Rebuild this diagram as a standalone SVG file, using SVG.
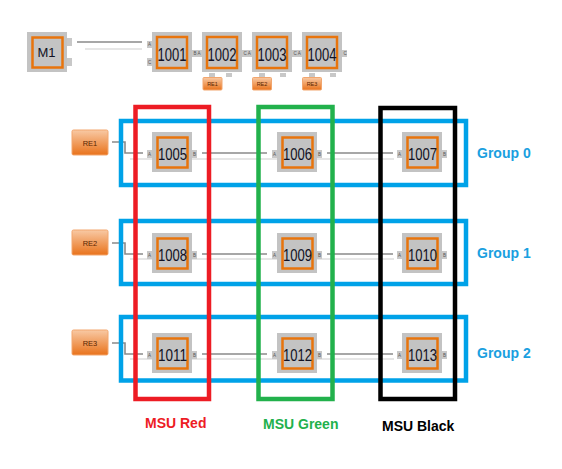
<svg xmlns="http://www.w3.org/2000/svg" width="562" height="469" viewBox="0 0 562 469">
<defs>
<linearGradient id="reg" x1="0" y1="0" x2="0" y2="1">
<stop offset="0" stop-color="#f8c9a4"/>
<stop offset="1" stop-color="#e9731c"/>
</linearGradient>
<style>
.body{fill:#c3c3c3}
.core{fill:none;stroke:#e8740c;stroke-width:2.5}
.tab{fill:#c8c8c8}
.tl{font-family:"Liberation Sans",Arial,sans-serif;font-size:4.5px;fill:#555;text-anchor:middle}
.num{font-family:"Liberation Sans",Arial,sans-serif;fill:#111122;text-anchor:middle}
.tn{font-size:14px}
.re{fill:url(#reg);stroke:#f2a66e;stroke-width:1}
.ret{font-family:"Liberation Sans",Arial,sans-serif;fill:#5a2500;text-anchor:middle}
.wire{fill:none;stroke:#8a8a8a;stroke-width:1.6}
.shadow{fill:none;stroke:#e6e6e6;stroke-width:2}
.grp{fill:none;stroke:#00a2e8;stroke-width:4.5}
.msu{fill:none;stroke-width:4.5}
.gl{font-family:"Liberation Sans",Arial,sans-serif;font-size:14px;font-weight:bold;fill:#1aa0e0}
.ml{font-family:"Liberation Sans",Arial,sans-serif;font-size:14px;font-weight:bold}
</style>
</defs>
<rect width="562" height="469" fill="#fff"/>

<g id="connectors">
<path class="wire" d="M77,42 H142"/>
<path class="shadow" d="M85,49 H142"/>
<path class="shadow" d="M130,159 H394"/>
<path class="shadow" d="M130,259 H394"/>
<path class="shadow" d="M130,359 H394"/>
<path class="wire" d="M112,142 H125 V153 H143"/>
<path class="wire" d="M202,153 H267"/>
<path class="wire" d="M327,153 H393"/>
<path class="wire" d="M112,243 H125 V254 H143"/>
<path class="wire" d="M202,254 H267"/>
<path class="wire" d="M327,254 H393"/>
<path class="wire" d="M112,343 H125 V354 H143"/>
<path class="wire" d="M202,354 H267"/>
<path class="wire" d="M327,354 H393"/>
</g>

<g id="group0"><rect class="grp" x="121" y="121" width="345" height="64"/><text class="gl" x="477" y="158">Group 0</text></g>
<g id="group1"><rect class="grp" x="121" y="221" width="345" height="63"/><text class="gl" x="477" y="258">Group 1</text></g>
<g id="group2"><rect class="grp" x="121" y="317" width="345" height="63.5"/><text class="gl" x="477" y="358">Group 2</text></g>

<g id="msu-red"><rect class="msu" stroke="#ed1c24" x="135.5" y="107" width="73.5" height="292"/><text class="ml" fill="#ed1c24" x="145" y="428">MSU Red</text></g>
<g id="msu-green"><rect class="msu" stroke="#22b14c" x="258.5" y="107" width="74" height="292"/><text class="ml" fill="#22b14c" x="263" y="429">MSU Green</text></g>
<g id="msu-black"><rect class="msu" stroke="#000" x="380.5" y="108" width="74.5" height="291"/><text class="ml" fill="#000" x="382" y="431">MSU Black</text></g>

<g id="M1" transform="translate(27,32)">
<rect class="body" width="40" height="40"/>
<rect class="core" x="5.5" y="5.5" width="30" height="30"/>
<rect class="tab" x="40" y="6" width="5" height="8"/>
<rect class="tab" x="40" y="26" width="5" height="8"/>
<text class="num" x="19.5" y="25" font-size="13" fill="#2a2a4a">M1</text>
</g>

<g id="n1001" transform="translate(152,32)">
<rect class="body" width="40" height="40"/>
<rect class="core" x="5" y="5" width="30" height="31"/>
<rect class="tab" x="-5" y="9" width="5" height="7"/><text class="tl" x="-2.5" y="14">A</text>
<rect class="tab" x="-5" y="26" width="5" height="8"/><text class="tl" x="-2.5" y="31.5">C</text>
<rect class="tab" x="40" y="18" width="5" height="7"/>
<text class="num tn" transform="translate(20,28.5) scale(0.93,1.3)">1001</text>
</g>
<g id="n1002" transform="translate(202,32)">
<rect class="body" width="40" height="40"/>
<rect class="core" x="5" y="5" width="30" height="31"/>
<rect class="tab" x="-5" y="18" width="5" height="7"/><text class="tl" x="-5" y="23">B A</text>
<rect class="tab" x="40" y="18" width="5" height="7"/>
<rect class="tab" x="7" y="41" width="6" height="4"/>
<rect class="tab" x="24" y="41" width="6" height="4"/>
<rect class="re" x="1" y="45.5" width="19" height="12.5" rx="1"/>
<text class="ret" x="10.5" y="54" font-size="5.5">RE1</text>
<text class="num tn" transform="translate(20,28.5) scale(0.93,1.3)">1002</text>
</g>
<g id="n1003" transform="translate(252,32)">
<rect class="body" width="40" height="40"/>
<rect class="core" x="5" y="5" width="30" height="31"/>
<rect class="tab" x="-5" y="18" width="5" height="7"/><text class="tl" x="-5" y="23">C A</text>
<rect class="tab" x="40" y="18" width="5" height="7"/>
<rect class="tab" x="7" y="41" width="6" height="4"/>
<rect class="tab" x="28" y="41" width="6" height="4"/>
<rect class="re" x="0.5" y="45.5" width="19" height="12.5" rx="1"/>
<text class="ret" x="10" y="54" font-size="5.5">RE2</text>
<text class="num tn" transform="translate(20,28.5) scale(0.93,1.3)">1003</text>
</g>
<g id="n1004" transform="translate(302,32)">
<rect class="body" width="40" height="40"/>
<rect class="core" x="5" y="5" width="30" height="31"/>
<rect class="tab" x="-5" y="18" width="5" height="7"/><text class="tl" x="-5" y="23">C A</text>
<rect class="tab" x="40" y="18" width="5" height="7"/><text class="tl" x="43" y="23">C</text>
<rect class="tab" x="7" y="41" width="6" height="4"/>
<rect class="tab" x="28" y="41" width="6" height="4"/>
<rect class="re" x="0.5" y="45.5" width="19" height="12.5" rx="1"/>
<text class="ret" x="10" y="54" font-size="5.5">RE3</text>
<text class="num tn" transform="translate(20,28.5) scale(0.93,1.3)">1004</text>
</g>

<g id="RE1"><rect class="re" x="72" y="130" width="36" height="25" rx="1.5"/><text class="ret" x="90" y="146" font-size="7.5">RE1</text></g>
<g id="RE2"><rect class="re" x="72" y="230" width="36" height="25" rx="1.5"/><text class="ret" x="90" y="246" font-size="7.5">RE2</text></g>
<g id="RE3"><rect class="re" x="72" y="330" width="36" height="25" rx="1.5"/><text class="ret" x="90" y="346" font-size="7.5">RE3</text></g>

<g id="n1005" transform="translate(152,132)">
<rect class="body" width="40" height="40"/><rect class="core" x="5.5" y="5.5" width="30" height="30"/>
<rect class="tab" x="-5" y="18" width="5" height="8"/><text class="tl" x="-2.5" y="23.5">A</text>
<rect class="tab" x="40" y="18" width="5" height="8"/><text class="tl" x="42.5" y="23.5">B</text>
<text class="num" x="20.5" y="28" font-size="16" textLength="29" lengthAdjust="spacingAndGlyphs">1005</text>
</g>
<g id="n1006" transform="translate(277,132)">
<rect class="body" width="40" height="40"/><rect class="core" x="5.5" y="5.5" width="30" height="30"/>
<rect class="tab" x="-5" y="18" width="5" height="8"/><text class="tl" x="-2.5" y="23.5">A</text>
<rect class="tab" x="40" y="18" width="5" height="8"/><text class="tl" x="42.5" y="23.5">B</text>
<text class="num" x="20.5" y="28" font-size="16" textLength="29" lengthAdjust="spacingAndGlyphs">1006</text>
</g>
<g id="n1007" transform="translate(402,132)">
<rect class="body" width="40" height="40"/><rect class="core" x="5.5" y="5.5" width="30" height="30"/>
<rect class="tab" x="-5" y="18" width="5" height="8"/><text class="tl" x="-2.5" y="23.5">A</text>
<rect class="tab" x="40" y="18" width="5" height="8"/><text class="tl" x="42.5" y="23.5">B</text>
<text class="num" x="20.5" y="28" font-size="16" textLength="29" lengthAdjust="spacingAndGlyphs">1007</text>
</g>
<g id="n1008" transform="translate(152,233)">
<rect class="body" width="40" height="40"/><rect class="core" x="5.5" y="5.5" width="30" height="30"/>
<rect class="tab" x="-5" y="18" width="5" height="8"/><text class="tl" x="-2.5" y="23.5">A</text>
<rect class="tab" x="40" y="18" width="5" height="8"/><text class="tl" x="42.5" y="23.5">B</text>
<text class="num" x="20.5" y="28" font-size="16" textLength="29" lengthAdjust="spacingAndGlyphs">1008</text>
</g>
<g id="n1009" transform="translate(277,233)">
<rect class="body" width="40" height="40"/><rect class="core" x="5.5" y="5.5" width="30" height="30"/>
<rect class="tab" x="-5" y="18" width="5" height="8"/><text class="tl" x="-2.5" y="23.5">A</text>
<rect class="tab" x="40" y="18" width="5" height="8"/><text class="tl" x="42.5" y="23.5">B</text>
<text class="num" x="20.5" y="28" font-size="16" textLength="29" lengthAdjust="spacingAndGlyphs">1009</text>
</g>
<g id="n1010" transform="translate(402,233)">
<rect class="body" width="40" height="40"/><rect class="core" x="5.5" y="5.5" width="30" height="30"/>
<rect class="tab" x="-5" y="18" width="5" height="8"/><text class="tl" x="-2.5" y="23.5">A</text>
<rect class="tab" x="40" y="18" width="5" height="8"/><text class="tl" x="42.5" y="23.5">B</text>
<text class="num" x="20.5" y="28" font-size="16" textLength="29" lengthAdjust="spacingAndGlyphs">1010</text>
</g>
<g id="n1011" transform="translate(152,333)">
<rect class="body" width="40" height="40"/><rect class="core" x="5.5" y="5.5" width="30" height="30"/>
<rect class="tab" x="-5" y="18" width="5" height="8"/><text class="tl" x="-2.5" y="23.5">A</text>
<rect class="tab" x="40" y="18" width="5" height="8"/><text class="tl" x="42.5" y="23.5">B</text>
<text class="num" x="20.5" y="28" font-size="16" textLength="29" lengthAdjust="spacingAndGlyphs">1011</text>
</g>
<g id="n1012" transform="translate(277,333)">
<rect class="body" width="40" height="40"/><rect class="core" x="5.5" y="5.5" width="30" height="30"/>
<rect class="tab" x="-5" y="18" width="5" height="8"/><text class="tl" x="-2.5" y="23.5">A</text>
<rect class="tab" x="40" y="18" width="5" height="8"/><text class="tl" x="42.5" y="23.5">B</text>
<text class="num" x="20.5" y="28" font-size="16" textLength="29" lengthAdjust="spacingAndGlyphs">1012</text>
</g>
<g id="n1013" transform="translate(402,333)">
<rect class="body" width="40" height="40"/><rect class="core" x="5.5" y="5.5" width="30" height="30"/>
<rect class="tab" x="-5" y="18" width="5" height="8"/><text class="tl" x="-2.5" y="23.5">A</text>
<rect class="tab" x="40" y="18" width="5" height="8"/><text class="tl" x="42.5" y="23.5">B</text>
<text class="num" x="20.5" y="28" font-size="16" textLength="29" lengthAdjust="spacingAndGlyphs">1013</text>
</g>
</svg>
